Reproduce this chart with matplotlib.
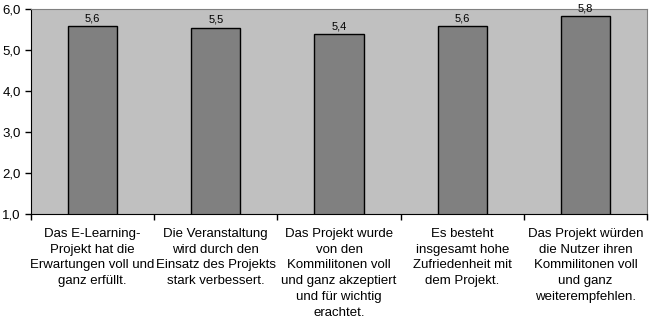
import matplotlib.pyplot as plt
import numpy as np

plt.rcParams['font.family'] = ['Liberation Sans', 'DejaVu Sans']

# data
categories = [
    "Das E-Learning-\nProjekt hat die\nErwartungen voll und\nganz erfüllt.",
    "Die Veranstaltung\nwird durch den\nEinsatz des Projekts\nstark verbessert.",
    "Das Projekt wurde\nvon den\nKommilitonen voll\nund ganz akzeptiert\nund für wichtig\nerachtet.",
    "Es besteht\ninsgesamt hohe\nZufriedenheit mit\ndem Projekt.",
    "Das Projekt würden\ndie Nutzer ihren\nKommilitonen voll\nund ganz\nweiterempfehlen.",
]
values = [5.58, 5.54, 5.38, 5.58, 5.83]
yticks = [1, 2, 3, 4, 5, 6]

fig = plt.figure(figsize=(6.52, 3.23), dpi=100)
ax = fig.add_axes([31/652, 1 - 214/323, 616/652, 205/323])
ax.set_facecolor('#C0C0C0')

x = np.arange(len(values))
ax.bar(x, values, width=0.4, bottom=0, color='#808080', edgecolor='black', linewidth=1, zorder=2)
for xi, v in zip(x, values):
    ax.text(xi, v + 0.07, f"{v:.1f}".replace('.', ','), ha='center', va='bottom', fontsize=8)

ax.set_xlim(-0.5, len(values) - 0.5)
ax.set_ylim(1, 6)
ax.set_yticks(yticks)
ax.set_yticklabels([f"{t:.1f}".replace('.', ',') for t in yticks], fontsize=9.5)
ax.set_xticks(np.arange(len(values) + 1) - 0.5)
ax.set_xticklabels([])
ax.tick_params(axis='both', direction='out', length=4, color='black', width=1)

for xi, c in zip(x, categories):
    ax.annotate(c, xy=(xi, 1), xycoords='data', xytext=(0, -10), textcoords='offset points',
                ha='center', va='top', fontsize=9.5, linespacing=1.42)

for s in ['top', 'right']:
    ax.spines[s].set_color('#808080')
for s in ['left', 'bottom']:
    ax.spines[s].set_color('black')

fig.savefig('out.png', dpi=100)
